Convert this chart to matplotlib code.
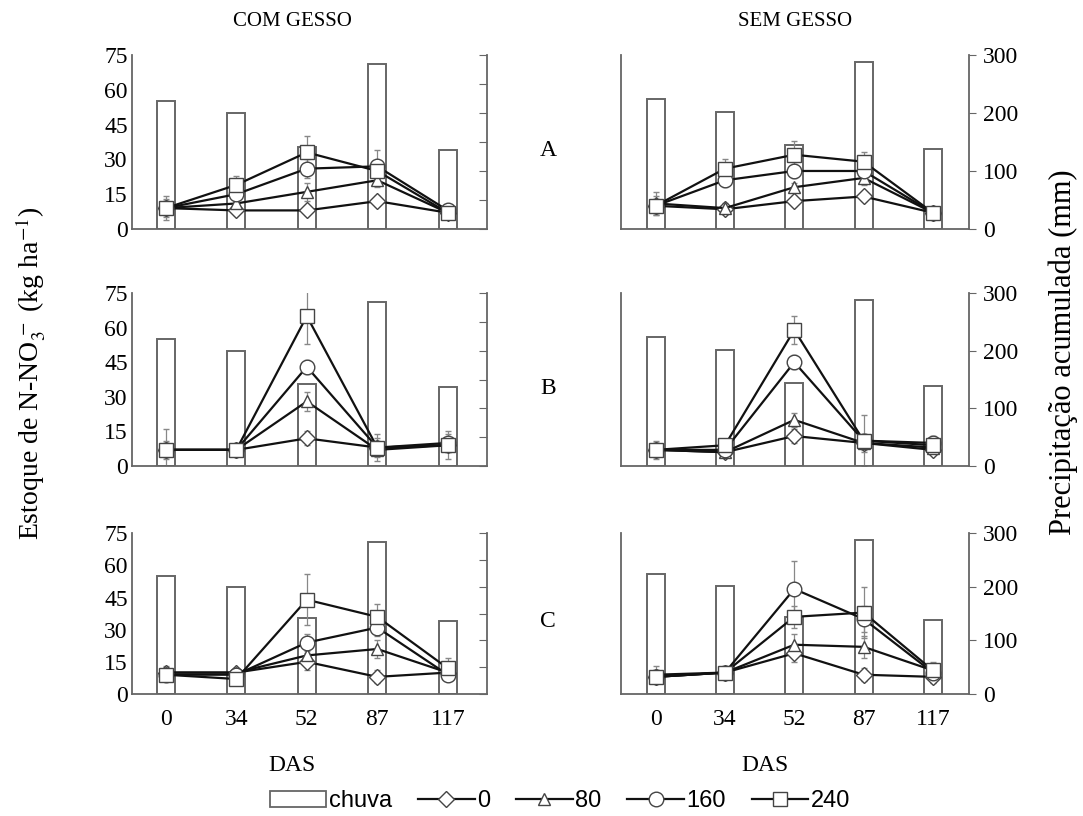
import matplotlib.pyplot as plt
from matplotlib.patches import Patch
from matplotlib.lines import Line2D
import numpy as np

plt.rcParams['font.family'] = ['Liberation Serif', 'DejaVu Serif']
plt.rcParams['mathtext.fontset'] = 'stix'

das = ['0', '34', '52', '87', '117']
doses = ['0', '80', '160', '240']
chuva_com = [220, 200, 142, 284, 137]
chuva_sem = [224, 202, 144, 288, 138]

# rows = doses 0, 80, 160, 240 ; columns = DAS
com_A = [[9, 8, 8, 12, 7], [9, 11, 16, 21, 7], [9, 15, 26, 27, 8], [9, 19, 33, 25, 7]]
com_A_err = [[3, 2, 2, 2, 2], [3, 2, 4, 3, 2], [4, 3, 4, 7, 2], [5, 4, 7, 3, 2]]
sem_A = [[10, 8.5, 12, 14, 7], [11, 9, 18, 22, 7], [10, 21, 25, 25, 7], [10, 26, 32, 29, 7]]
sem_A_err = [[3, 2, 2, 2, 2], [5, 2, 2, 3, 2], [3, 3, 3, 3, 2], [4, 4, 6, 4, 2]]

com_B = [[7, 7, 12, 8, 9], [7, 7, 28, 7, 9], [7, 7, 43, 8, 10], [7, 7, 65, 8, 9]]
com_B_err = [[3, 2, 3, 3, 3], [3, 2, 4, 2, 3], [4, 2, 3, 4, 4], [9, 2, 12, 6, 6]]
sem_B = [[7, 6, 13, 10, 7], [7, 6, 20, 10, 8], [7, 7, 45, 11, 10], [7, 9, 59, 11, 9]]
sem_B_err = [[3, 2, 3, 3, 2], [4, 2, 3, 4, 3], [3, 3, 3, 3, 3], [3, 2, 6, 11, 4]]

com_C = [[10, 10, 15, 8, 10], [10, 10, 18, 21, 10], [9, 9, 24, 31, 9], [9, 7, 44, 36, 12]]
com_C_err = [[2, 2, 4, 3, 3], [3, 2, 3, 4, 3], [2, 2, 4, 4, 3], [2, 2, 12, 6, 5]]
sem_C = [[8, 10, 19, 9, 8], [9, 10, 23, 22, 11], [8, 10, 49, 35, 10], [8, 10, 36, 38, 11]]
sem_C_err = [[3, 2, 4, 3, 3], [4, 3, 5, 5, 3], [3, 2, 13, 6, 3], [3, 3, 5, 12, 4]]

markers = ['D', '^', 'o', 's']
msizes = [8, 9, 10.5, 9.5]
gray = '#666666'

panels = [('A', com_A, com_A_err, sem_A, sem_A_err),
          ('B', com_B, com_B_err, sem_B, sem_B_err),
          ('C', com_C, com_C_err, sem_C, sem_C_err)]
rows_y = [(0.7194, 0.2132), (0.4289, 0.212), (0.1495, 0.197)]
cols_x = [(0.1219, 0.328), (0.5734, 0.3213)]

fig = plt.figure(figsize=(10.83, 8.16), dpi=100)
x = np.arange(len(das))

for i, (lab, cv, ce, sv, se) in enumerate(panels):
    b, h = rows_y[i]
    for j, (vals, errs, chuva) in enumerate([(cv, ce, chuva_com), (sv, se, chuva_sem)]):
        l, w = cols_x[j]
        ax = fig.add_axes([l, b, w, h])
        ax2 = ax.twinx()
        ax2.bar(x, chuva, width=0.26, facecolor='white', edgecolor=gray, lw=1.4)
        ax2.set_ylim(0, 300)
        for k in range(4):
            ax.errorbar(x, vals[k], yerr=errs[k], color='#111111', lw=1.6,
                        marker=markers[k], ms=msizes[k], mfc='white', mec='#444444',
                        mew=1.0, ecolor='#888888', elinewidth=0.9, capsize=2.5)
        ax.set_zorder(ax2.get_zorder() + 1)
        ax.patch.set_visible(False)
        ax.set_ylim(0, 75)
        if j == 0:
            ax.set_xlim(-0.48, 4.56)
        else:
            ax.set_xlim(-0.5, 4.52)
        ax.set_xticks(x)
        ax.set_yticks([0, 15, 30, 45, 60, 75])
        for a in (ax, ax2):
            a.spines['top'].set_visible(False)
            for s in a.spines.values():
                s.set_color(gray)
                s.set_linewidth(1.3)
        ax.spines['right'].set_visible(False)
        ax2.spines['left'].set_visible(False)
        ax2.spines['bottom'].set_visible(False)
        ax.tick_params(axis='both', length=0, labelsize=17, colors='black')
        ax.tick_params(axis='y', pad=3)
        if i < 2:
            ax.set_xticklabels([])
        else:
            ax.set_xticklabels(das)
            ax.tick_params(axis='x', pad=11)
        if j == 1:
            ax.set_yticklabels([])
            ax2.set_yticks([0, 100, 200, 300])
            ax2.tick_params(axis='y', direction='out', length=5, color=gray,
                            labelsize=17, pad=5)
        else:
            ax2.set_yticks(np.arange(0, 301, 50))
            ax2.set_yticklabels([])
            ax2.tick_params(axis='y', direction='in', length=6, color=gray)
    fig.text(0.506, b + h * 0.45, lab, ha='center', va='center', fontsize=17)

fig.text(0.27, 0.974, 'COM GESSO', ha='center', va='center', fontsize=15)
fig.text(0.734, 0.974, 'SEM GESSO', ha='center', va='center', fontsize=15)
fig.text(0.27, 0.062, 'DAS', ha='center', va='center', fontsize=17)
fig.text(0.706, 0.062, 'DAS', ha='center', va='center', fontsize=17)
fig.text(0.028, 0.543, r'Estoque de N-NO$_3^{\,-}$ (kg ha$^{-1}$)', rotation=90,
         ha='center', va='center', fontsize=20)
fig.text(0.982, 0.568, 'Precipitação acumulada (mm)', rotation=90,
         ha='center', va='center', fontsize=22)

handles = [Patch(facecolor='white', edgecolor=gray, lw=1.3, label='chuva')]
for k in range(4):
    handles.append(Line2D([], [], color='#111111', lw=1.6, marker=markers[k], ms=msizes[k],
                          mfc='white', mec='#444444', label=doses[k]))
fig.legend(handles=handles, loc='center', bbox_to_anchor=(0.517, 0.018), ncol=5,
           frameon=False, prop={'family': 'Liberation Sans', 'size': 17},
           handlelength=2.4, handletextpad=0.1, columnspacing=1.1, borderpad=0)

fig.savefig('out.png', dpi=100)
